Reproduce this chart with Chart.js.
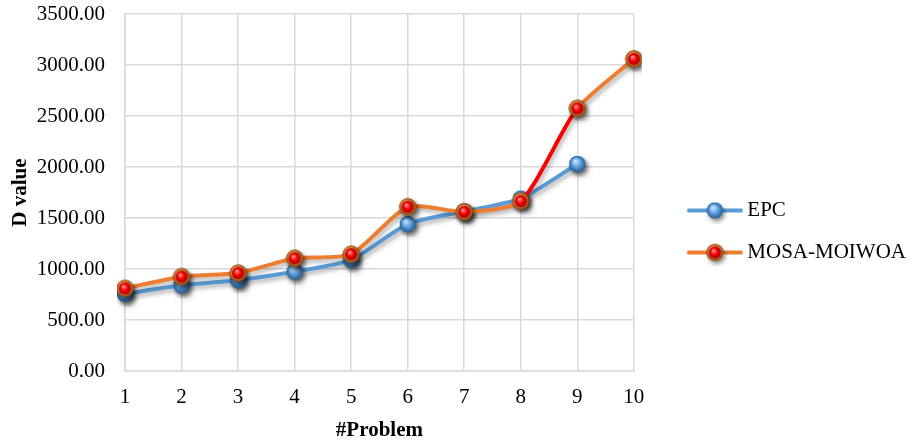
<!DOCTYPE html>
<html>
<head>
<meta charset="utf-8">
<script src="https://cdn.jsdelivr.net/npm/chart.js@4/dist/chart.umd.min.js"></script>
<style>
  html, body { margin: 0; padding: 0; background: #fff; }
  #wrap { width: 919px; height: 441px; position: relative; }
</style>
</head>
<body>
<div id="wrap"><canvas id="chart"></canvas></div>
<script>
// data
const problems = ['1', '2', '3', '4', '5', '6', '7', '8', '9', '10'];
const epcValues = [755, 840, 890, 975, 1090, 1440, 1565, 1690, 2030, null];
const mosaValues = [810, 925, 960, 1105, 1145, 1610, 1560, 1665, 2575, 3060];
const yTicks = [0, 500, 1000, 1500, 2000, 2500, 3000, 3500];

const FONT = "'Liberation Serif', 'Times New Roman', serif";
const BLUE = '#5b9bd5';
const ORANGE = '#ed7d31';
const RED = '#ff0000';

// shiny ball markers, drawn once into small canvases
function ball(outer, inner) {
  const s = 26, c = document.createElement('canvas');
  c.width = s; c.height = s;
  const g = c.getContext('2d');
  const cx = s / 2, cy = s / 2;
  // drop shadow
  g.save();
  g.shadowColor = 'rgba(0,0,0,0.45)';
  g.shadowBlur = 4; g.shadowOffsetX = 2; g.shadowOffsetY = 3;
  g.beginPath(); g.arc(cx, cy, outer.r, 0, Math.PI * 2);
  g.fillStyle = outer.dark; g.fill();
  g.restore();
  let gr = g.createRadialGradient(cx - 2, cy - 3, 1, cx, cy, outer.r);
  gr.addColorStop(0, outer.light);
  gr.addColorStop(0.6, outer.mid);
  gr.addColorStop(1, outer.dark);
  g.beginPath(); g.arc(cx, cy, outer.r, 0, Math.PI * 2);
  g.fillStyle = gr; g.fill();
  if (inner) {
    gr = g.createRadialGradient(cx - 1.5, cy - 2, 0.5, cx, cy, inner.r);
    gr.addColorStop(0, inner.light);
    gr.addColorStop(0.5, inner.mid);
    gr.addColorStop(1, inner.dark);
    g.beginPath(); g.arc(cx, cy, inner.r, 0, Math.PI * 2);
    g.fillStyle = gr; g.fill();
  }
  return c;
}

const epcBall = ball({ r: 8, light: '#bfe0ff', mid: '#4f92d3', dark: '#2a5f94' });
const mosaBall = ball({ r: 8.5, light: '#ffd2a8', mid: '#e07e34', dark: '#8f4712' },
                      { r: 6, light: '#ff9a9a', mid: '#ff0000', dark: '#a00000' });

// legend swatch: line with the ball in the middle, left blank to push it right
function legendSwatch(color, b) {
  const c = document.createElement('canvas');
  c.width = 94; c.height = 26;
  const g = c.getContext('2d');
  g.strokeStyle = color; g.lineWidth = 4; g.lineCap = 'round';
  g.beginPath(); g.moveTo(40, 13); g.lineTo(92, 13); g.stroke();
  g.drawImage(b, 66 - 13, 0);
  return c;
}
const swatches = [legendSwatch(BLUE, epcBall), legendSwatch(ORANGE, mosaBall)];

// soft shadow under the lines
const lineShadow = {
  id: 'lineShadow',
  beforeDatasetDraw(chart) {
    const ctx = chart.ctx;
    ctx.save();
    ctx.shadowColor = 'rgba(0,0,0,0.3)';
    ctx.shadowBlur = 4;
    ctx.shadowOffsetX = 2;
    ctx.shadowOffsetY = 3;
  },
  afterDatasetDraw(chart) {
    chart.ctx.restore();
  },
};

new Chart(document.getElementById('chart'), {
  type: 'line',
  data: {
    labels: problems,
    datasets: [
      {
        label: 'EPC',
        data: epcValues,
        borderColor: BLUE,
        borderWidth: 4,
        tension: 0.22,
        pointStyle: epcBall,
        order: 1,
      },
      {
        label: 'MOSA-MOIWOA',
        data: mosaValues,
        borderColor: ORANGE,
        borderWidth: 4,
        tension: 0.22,
        pointStyle: mosaBall,
        order: 0,
        segment: {
          borderColor: (ctx) => ctx.p0DataIndex === 7 ? RED : undefined,
        },
      },
    ],
  },
  options: {
    responsive: true,
    maintainAspectRatio: false,
    animation: false,
    layout: { padding: { left: 6, right: 3, top: 14, bottom: 0 } },
    plugins: {
      legend: {
        position: 'right',
        maxWidth: 320,
        title: { display: true, text: ' ', padding: 2, font: { family: FONT, size: 4, lineHeight: 1 } },
        labels: {
          usePointStyle: true,
          pointStyleWidth: 82,
          padding: 21,
          color: '#000',
          font: { family: FONT, size: 21 },
          generateLabels: (chart) => chart.data.datasets.map((ds, i) => ({
            text: ds.label,
            pointStyle: swatches[i],
            datasetIndex: i,
            fontColor: '#000',
            lineWidth: 0,
            strokeStyle: 'transparent',
            fillStyle: 'transparent',
          })),
        },
      },
      tooltip: { enabled: false },
    },
    scales: {
      x: {
        offset: false,
        grid: { color: '#d9d9d9', lineWidth: 1.5, drawTicks: false },
        border: { color: '#d9d9d9', width: 1.5 },
        ticks: { color: '#000', padding: 14, maxRotation: 0, font: { family: FONT, size: 21 } },
        title: {
          display: true,
          text: '#Problem',
          color: '#000',
          padding: { top: 4, bottom: 0 },
          font: { family: FONT, size: 21, weight: 'bold', lineHeight: 1 },
        },
        afterFit: (a) => { a.height = 70; },
      },
      y: {
        min: yTicks[0],
        max: yTicks[yTicks.length - 1],
        afterBuildTicks: (axis) => { axis.ticks = yTicks.map(v => ({ value: v })); },
        grid: { color: '#d9d9d9', lineWidth: 1.5, drawTicks: false },
        border: { color: '#d9d9d9', width: 1.5 },
        ticks: {
          color: '#000',
          padding: 20,
          font: { family: FONT, size: 21 },
          callback: (v) => Number(v).toFixed(2),
        },
        title: {
          display: true,
          text: 'D value',
          color: '#000',
          padding: { top: 2, bottom: 0 },
          font: { family: FONT, size: 21, weight: 'bold' },
        },
        afterFit: (a) => { a.width = 119; a.paddingTop = 0; a.paddingBottom = 0; },
      },
    },
  },
  plugins: [lineShadow],
});
</script>
</body>
</html>
